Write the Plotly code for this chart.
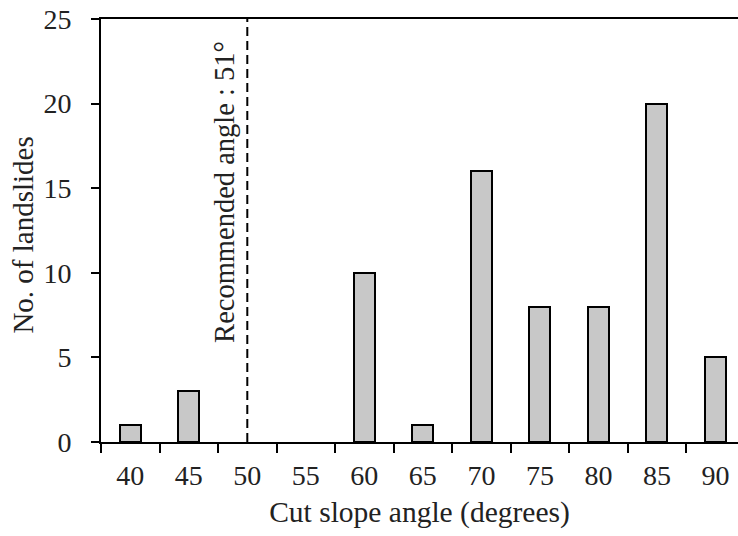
import plotly.graph_objects as go

angles = ["40", "45", "50", "55", "60", "65", "70", "75", "80", "85", "90"]
landslides = [1, 3, 0, 0, 10, 1, 16, 8, 8, 20, 5]
recommended_label = "Recommended angle : 51°"
recommended_index = 2  # position of the dashed line on the category axis
y_ticks = [0, 5, 10, 15, 20, 25]

FONT = "Liberation Serif"
TXT = "#222"

fig = go.Figure()
fig.add_trace(go.Bar(
    x=angles, y=landslides, width=0.36,
    marker=dict(color="#c8c8c8",
                line=dict(color="black", width=[2 if v > 0 else 0 for v in landslides])),
))

fig.add_shape(type="line", xref="x", yref="y",
              x0=recommended_index, x1=recommended_index, y0=0, y1=25,
              line=dict(color="black", width=2, dash="9px,5px"))

fig.add_annotation(x=recommended_index, y=14.8, xref="x", yref="y",
                   text=recommended_label, textangle=-90, showarrow=False,
                   xanchor="center", yanchor="middle",
                   xshift=-23, font=dict(family=FONT, size=28.5, color=TXT))

fig.add_annotation(x=0, y=12.2, xref="paper", yref="y",
                   text="No. of landslides", textangle=-90, showarrow=False,
                   xanchor="center", yanchor="middle",
                   xshift=-78, font=dict(family=FONT, size=29, color=TXT))

fig.update_layout(
    width=738, height=536,
    margin=dict(l=101, r=0, t=19, b=94),
    plot_bgcolor="white", paper_bgcolor="white",
    showlegend=False,
    font=dict(family=FONT, size=28, color=TXT),
    bargap=0,
)
fig.update_xaxes(
    type="category", range=[-0.5, 10.385],
    tickson="boundaries", ticks="outside", ticklen=9, tickwidth=2, tickcolor="black",
    showline=True, linecolor="black", linewidth=2, mirror=True,
    showgrid=False, zeroline=False,
    ticklabelstandoff=7,
    title=dict(text="Cut slope angle (degrees)", standoff=12, font=dict(size=29.5)),
)
fig.update_yaxes(
    range=[0, 25], tickvals=y_ticks, ticks="outside", ticklen=8, tickwidth=2,
    tickcolor="black", showline=True, linecolor="black", linewidth=2,
    showgrid=False, zeroline=False, ticklabelstandoff=14,
)

fig.write_html("out.html")
